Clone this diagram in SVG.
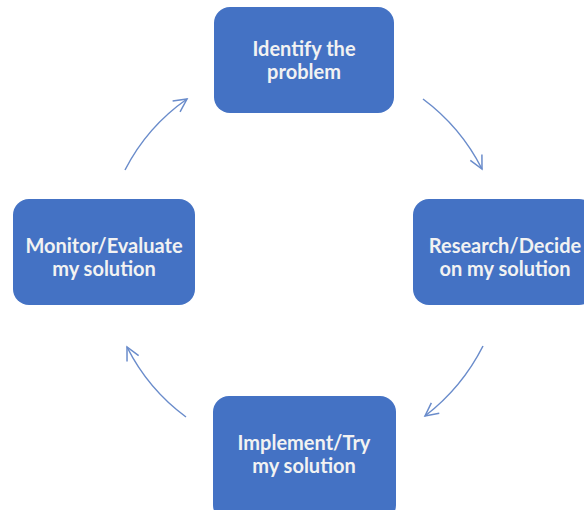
<svg xmlns="http://www.w3.org/2000/svg" width="584" height="510" viewBox="0 0 584 510">
<defs>
<style>
.box{fill:#4472C4;}
.lbl{font-family:Lato,"Open Sans","Liberation Sans",sans-serif;font-weight:bold;font-size:20px;fill:#F2F2F2;text-anchor:middle;}
.con{fill:none;stroke:#6A8CCB;stroke-width:1.5;}
</style>
<marker id="ah" markerUnits="userSpaceOnUse" markerWidth="20" markerHeight="20" refX="0" refY="0" viewBox="-14 -10 20 20" orient="auto">
<path d="M-13,-6.5 L0,0 L-13,6.5" fill="none" stroke="#6A8CCB" stroke-width="1.5"/>
</marker>
</defs>
<rect width="584" height="510" fill="#FFFFFF"/>
<g id="connectors">
<path class="con" d="M125,170 A195,195 0 0,1 187,99" marker-end="url(#ah)"/>
<path class="con" d="M423,99 A200,200 0 0,1 482,169" marker-end="url(#ah)"/>
<path class="con" d="M483,346 A205,205 0 0,1 425,416" marker-end="url(#ah)"/>
<path class="con" d="M186,417 A197,197 0 0,1 127,347" marker-end="url(#ah)"/>
</g>
<g id="identify">
<rect class="box" x="214" y="7" width="180" height="106" rx="16"/>
<text class="lbl" x="304" y="56">Identify the</text>
<text class="lbl" x="304" y="79">problem</text>
</g>
<g id="research">
<rect class="box" x="413" y="199" width="182" height="106" rx="16"/>
<text class="lbl" x="505" y="253">Research/Decide</text>
<text class="lbl" x="505" y="276">on my solution</text>
</g>
<g id="implement">
<rect class="box" x="213" y="396" width="183" height="125" rx="16"/>
<text class="lbl" x="304" y="450">Implement/Try</text>
<text class="lbl" x="304" y="473">my solution</text>
</g>
<g id="monitor">
<rect class="box" x="13" y="199" width="182" height="106" rx="16"/>
<text class="lbl" x="104" y="253">Monitor/Evaluate</text>
<text class="lbl" x="104" y="276">my solution</text>
</g>
</svg>
